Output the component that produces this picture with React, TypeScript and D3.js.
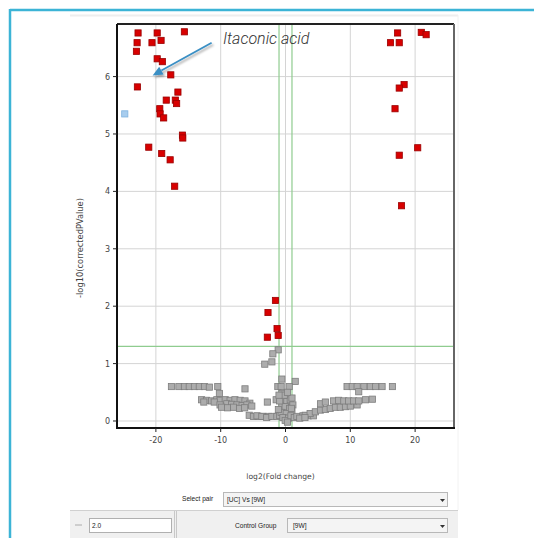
import React from "react";
import * as d3 from "d3";

// [log2 fold change, -log10 corrected p]
const significantPoints: [number, number][] = [
  [-22.75, 6.76], [-19.8, 6.76], [-15.6, 6.78], [-22.9, 6.59], [-20.6, 6.59], [-19.2, 6.63],
  [-23.0, 6.44], [-19.8, 6.31], [-19.0, 6.26], [-17.7, 6.03], [-22.85, 5.82], [-16.6, 5.73],
  [-18.4, 5.59], [-17.0, 5.59], [-16.8, 5.53], [-19.4, 5.44], [-19.35, 5.35], [-18.8, 5.28],
  [-15.9, 4.98], [-15.85, 4.93], [-21.1, 4.77], [-19.1, 4.66], [-17.8, 4.55], [-17.1, 4.09],
  [17.3, 6.76], [20.95, 6.77], [21.7, 6.73], [16.2, 6.59], [17.55, 6.59], [18.3, 5.86],
  [17.55, 5.8], [16.9, 5.44], [20.4, 4.76], [17.55, 4.63], [17.9, 3.75],
  [-1.55, 2.1], [-2.7, 1.89], [-1.3, 1.61], [-1.13, 1.49], [-2.8, 1.46],
];

const flaggedPoints: [number, number][] = [[-24.8, 5.35]];

const nonSignificantPoints: [number, number][] = [
  [-1.13, 1.24], [-1.95, 1.17], [-2.1, 1.03], [-3.2, 0.99],
  [-17.6, 0.6], [-16.45, 0.6], [-15.6, 0.6], [-14.85, 0.6], [-14.05, 0.6], [-13.3, 0.6],
  [-12.5, 0.6], [-11.75, 0.59], [-10.45, 0.6], [-6.25, 0.56], [-10.2, 0.48],
  [-12.95, 0.37], [-12.2, 0.36], [-11.4, 0.35], [-10.6, 0.37], [-10.1, 0.36], [-9.3, 0.37],
  [-8.55, 0.36], [-7.8, 0.37], [-7.0, 0.36], [-6.25, 0.35], [-5.5, 0.31], [-12.6, 0.33], [-11.0, 0.33],
  [-10.1, 0.28], [-9.05, 0.3], [-8.3, 0.29], [-7.5, 0.28], [-6.7, 0.27], [-5.95, 0.28], [-5.2, 0.26],
  [-9.85, 0.24], [-8.95, 0.23], [-8.0, 0.24], [-7.1, 0.22], [-6.3, 0.23],
  [-5.6, 0.1], [-4.95, 0.08], [-4.2, 0.08], [-3.4, 0.08], [-2.6, 0.08], [-4.4, 0.09], [-3.65, 0.08],
  [-2.9, 0.06], [-2.1, 0.08], [-1.33, 0.08], [-0.93, 0.1], [-2.8, 0.33],
  [-0.56, 0.73], [1.5, 0.69], [0.57, 0.6], [-1.18, 0.6], [-0.67, 0.6], [-1.44, 0.37], [-0.56, 0.48],
  [-0.31, 0.37], [0.21, 0.34], [0.73, 0.37], [-0.56, 0.25], [-0.05, 0.25], [0.62, 0.22], [1.14, 0.28],
  [-0.67, 0.15], [0.11, 0.13], [0.99, 0.16], [-0.4, 0.06], [0.46, 0.05], [-0.05, 0.01], [0.84, 0.09],
  [1.35, 0.06], [-0.9, 0.35], [1.0, 0.4], [-0.2, 0.45], [0.3, 0.5], [-1.0, 0.45], [0.9, 0.22],
  [-1.1, 0.2], [0.3, -0.02],
  [1.76, 0.08], [2.7, 0.09], [3.5, 0.09], [4.3, 0.09], [3.05, 0.1], [3.8, 0.13], [4.6, 0.16],
  [5.4, 0.19], [6.15, 0.2], [6.9, 0.22], [7.7, 0.24], [8.45, 0.24], [9.25, 0.25], [10.0, 0.26],
  [11.05, 0.28], [5.4, 0.3], [6.15, 0.33], [7.4, 0.35], [8.2, 0.36], [9.0, 0.35], [9.75, 0.35],
  [10.5, 0.35], [11.3, 0.35], [12.35, 0.37], [13.4, 0.38], [2.2, 0.05], [3.0, 0.06],
  [9.5, 0.6], [10.3, 0.6], [11.05, 0.6], [12.1, 0.6], [13.1, 0.6], [13.9, 0.6], [14.9, 0.6],
  [16.5, 0.6], [11.3, 0.51],
];

const xTicks = [-20, -10, 0, 10, 20];
const yTicks = [0, 1, 2, 3, 4, 5, 6];
const foldThresholds = [-1, 1];
const pThreshold = 1.301;

const annotationLabel = "Itaconic acid";
const annotationText: [number, number] = [-9.65, 6.56];
const arrowFrom: [number, number] = [-11.4, 6.59];
const arrowTo: [number, number] = [-20.5, 6.02];

const xTitle = "log2(Fold change)";
const yTitle = "-log10(correctedPValue)";
const pairLabel = "Select pair";
const pairValue = "[UC] Vs [9W]";
const foldValue = "2.0";
const controlLabel = "Control Group";
const controlValue = "[9W]";

export default function App() {
  const W = 534, H = 538;
  const L = 117, R = 454, T = 24, B = 428;
  const x = d3.scaleLinear().domain([-26, 26]).range([L, R]);
  const y = d3.scaleLinear().domain([-0.122, 6.916]).range([B, T]);
  const s = 6.2;
  const tickFont = "DejaVu Sans, sans-serif";
  const uiFont = "Liberation Sans, Arial, sans-serif";

  const ax0 = x(arrowFrom[0]), ay0 = y(arrowFrom[1]);
  const ax1 = x(arrowTo[0]), ay1 = y(arrowTo[1]);
  const ang = Math.atan2(ay1 - ay0, ax1 - ax0);
  const hl = 10, hw = 4.5;
  const bx = ax1 - hl * Math.cos(ang), by = ay1 - hl * Math.sin(ang);
  const head = `M${ax1},${ay1}L${bx + hw * Math.sin(ang)},${by - hw * Math.cos(ang)}L${bx - hw * Math.sin(ang)},${by + hw * Math.cos(ang)}Z`;

  return (
    <svg width={W} height={H} style={{ position: "absolute", left: 0, top: 0, background: "#fff" }}>
      <defs>
        <filter id="sh" x="-20%" y="-20%" width="140%" height="140%">
          <feDropShadow dx="1.5" dy="2" stdDeviation="1.2" floodColor="#000" floodOpacity="0.35" />
        </filter>
      </defs>
      {/* outer frame */}
      <line x1={10} y1={10} x2={W} y2={10} stroke="#3cb4d6" strokeWidth={2.5} />
      <line x1={10} y1={9} x2={10} y2={H} stroke="#3cb4d6" strokeWidth={2.5} />
      <line x1={70} y1={15.5} x2={458} y2={15.5} stroke="#eeeeee" strokeWidth={2} />
      <line x1={458} y1={15} x2={458} y2={510} stroke="#f2f2f2" strokeWidth={1} />

      {/* gridlines */}
      {xTicks.map((t) => (
        <line key={"gx" + t} x1={x(t)} x2={x(t)} y1={T} y2={B} stroke="#d4d4d4" strokeWidth={1} />
      ))}
      {yTicks.map((t) => (
        <line key={"gy" + t} x1={L} x2={R} y1={y(t)} y2={y(t)} stroke="#d4d4d4" strokeWidth={1} />
      ))}
      {/* thresholds */}
      {foldThresholds.map((t) => (
        <line key={"ft" + t} x1={x(t)} x2={x(t)} y1={T} y2={B} stroke="#8fcc8f" strokeWidth={1.2} />
      ))}
      <line x1={L} x2={R} y1={y(pThreshold)} y2={y(pThreshold)} stroke="#8fcc8f" strokeWidth={1.2} />

      {/* points */}
      {nonSignificantPoints.map(([a, b], i) => (
        <rect key={"n" + i} x={x(a) - s / 2} y={y(b) - s / 2} width={s} height={s}
          fill="#acacac" stroke="#7d7d7d" strokeWidth={0.8} />
      ))}
      {flaggedPoints.map(([a, b], i) => (
        <rect key={"f" + i} x={x(a) - s / 2} y={y(b) - s / 2} width={s} height={s}
          fill="#a8cdee" stroke="#7fb2df" strokeWidth={0.8} />
      ))}
      {significantPoints.map(([a, b], i) => (
        <rect key={"s" + i} x={x(a) - s / 2} y={y(b) - s / 2} width={s} height={s}
          fill="#d80000" stroke="#9a0000" strokeWidth={0.8} />
      ))}

      {/* frame */}
      <line x1={L} x2={R} y1={T} y2={T} stroke="#222" strokeWidth={1.8} />
      <line x1={R} x2={R} y1={T} y2={B} stroke="#666" strokeWidth={2} />
      <line x1={L} x2={L} y1={T} y2={B + 1} stroke="#111" strokeWidth={2} />
      <line x1={L - 1} x2={R + 1} y1={B} y2={B} stroke="#111" strokeWidth={2} />

      {/* ticks */}
      {yTicks.map((t) => (
        <g key={"ty" + t}>
          <line x1={L - 4} x2={L} y1={y(t)} y2={y(t)} stroke="#222" strokeWidth={1} />
          <text x={L - 7} y={y(t) + 3} textAnchor="end" fontFamily={tickFont} fontSize={8} fill="#444">{t}</text>
        </g>
      ))}
      {xTicks.map((t) => (
        <g key={"tx" + t}>
          <line x1={x(t)} x2={x(t)} y1={B} y2={B + 4} stroke="#222" strokeWidth={1} />
          <text x={x(t)} y={B + 15} textAnchor="middle" fontFamily={tickFont} fontSize={8} fill="#444">{t}</text>
        </g>
      ))}
      <text x={(L + R) / 2 - 5} y={479} textAnchor="middle" fontFamily={tickFont} fontSize={7.6} fill="#444">{xTitle}</text>
      <text transform={`translate(83,248) rotate(-90)`} textAnchor="middle" fontFamily={tickFont} fontSize={8.3} fill="#444">{yTitle}</text>

      {/* annotation */}
      <g filter="url(#sh)">
        <line x1={ax0} y1={ay0} x2={bx} y2={by} stroke="#3a8fc4" strokeWidth={1.8} />
        <path d={head} fill="#3a8fc4" />
      </g>
      <text x={x(annotationText[0])} y={y(annotationText[1])} fontFamily="Roboto, sans-serif" fontWeight={300}
        fontStyle="italic" fontSize={16} fill="#333">{annotationLabel}</text>

      {/* controls */}
      <text x={182} y={500.5} fontFamily={uiFont} fontSize={6.6} fill="#222">{pairLabel}</text>
      <rect x={223.5} y={492.5} width={224} height={14} fill="#f4f4f4" stroke="#b8b8b8" />
      <text x={227} y={501.5} fontFamily={uiFont} fontSize={6.6} fill="#222">{pairValue}</text>
      <path d="M440,499 L445,499 L442.5,502 Z" fill="#333" />

      <rect x={70} y={510} width={388} height={28} fill="#f0f0f0" />
      <line x1={70} x2={458} y1={510.5} y2={510.5} stroke="#d0d0d0" />
      <line x1={75} x2={82} y1={525} y2={525} stroke="#999" strokeWidth={0.8} />
      <rect x={89.5} y={518.5} width={82} height={14} fill="#fff" stroke="#b0b0b0" />
      <text x={92} y={528} fontFamily={uiFont} fontSize={6.6} fill="#222">{foldValue}</text>
      <line x1={174.5} x2={174.5} y1={511} y2={538} stroke="#c8c8c8" />
      <line x1={176.5} x2={176.5} y1={511} y2={538} stroke="#c8c8c8" />
      <text x={235} y={528} fontFamily={uiFont} fontSize={6.6} fill="#222">{controlLabel}</text>
      <rect x={287.5} y={518.5} width={160} height={14} fill="#f4f4f4" stroke="#b8b8b8" />
      <text x={293} y={528} fontFamily={uiFont} fontSize={6.6} fill="#222">{controlValue}</text>
      <path d="M440,525 L445,525 L442.5,528 Z" fill="#333" />
    </svg>
  );
}
